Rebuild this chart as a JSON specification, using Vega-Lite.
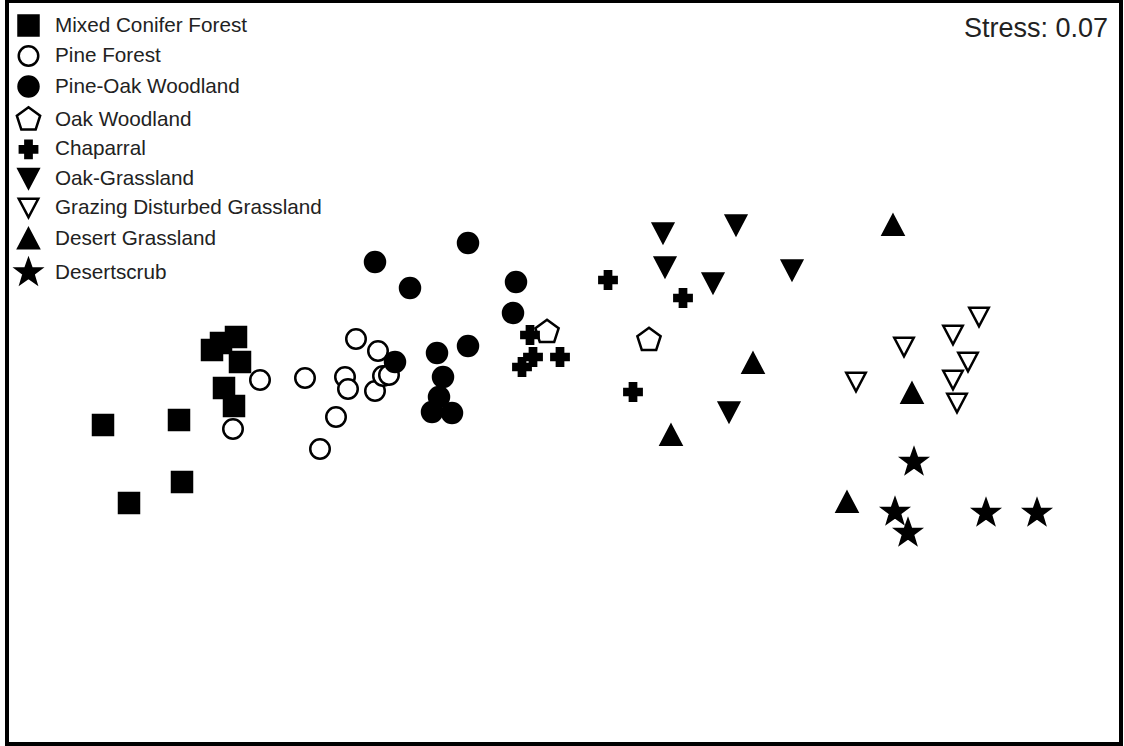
{
  "$schema": "https://vega.github.io/schema/vega-lite/v6.json",
  "width": 1124,
  "height": 746,
  "autosize": {"type": "fit", "contains": "padding"},
  "padding": {"left": 7, "top": 1, "right": 3, "bottom": 2},
  "background": "white",
  "config": {
    "view": {"stroke": "black", "strokeWidth": 4},
    "font": "Liberation Sans"
  },
  "layer": [
    {
      "data": {
        "values": [
          {"group": "Mixed Conifer Forest", "NMDS1": 236, "NMDS2": 407},
          {"group": "Mixed Conifer Forest", "NMDS1": 221, "NMDS2": 401},
          {"group": "Mixed Conifer Forest", "NMDS1": 212, "NMDS2": 394},
          {"group": "Mixed Conifer Forest", "NMDS1": 240, "NMDS2": 382},
          {"group": "Mixed Conifer Forest", "NMDS1": 224, "NMDS2": 356},
          {"group": "Mixed Conifer Forest", "NMDS1": 234, "NMDS2": 338},
          {"group": "Mixed Conifer Forest", "NMDS1": 103, "NMDS2": 319},
          {"group": "Mixed Conifer Forest", "NMDS1": 179, "NMDS2": 324},
          {"group": "Mixed Conifer Forest", "NMDS1": 182, "NMDS2": 262},
          {"group": "Mixed Conifer Forest", "NMDS1": 129, "NMDS2": 241},
          {"group": "Pine Forest", "NMDS1": 260, "NMDS2": 364},
          {"group": "Pine Forest", "NMDS1": 305, "NMDS2": 366},
          {"group": "Pine Forest", "NMDS1": 356, "NMDS2": 405},
          {"group": "Pine Forest", "NMDS1": 378, "NMDS2": 393},
          {"group": "Pine Forest", "NMDS1": 345, "NMDS2": 367},
          {"group": "Pine Forest", "NMDS1": 348, "NMDS2": 355},
          {"group": "Pine Forest", "NMDS1": 375, "NMDS2": 353},
          {"group": "Pine Forest", "NMDS1": 383, "NMDS2": 368},
          {"group": "Pine Forest", "NMDS1": 389, "NMDS2": 369},
          {"group": "Pine Forest", "NMDS1": 336, "NMDS2": 327},
          {"group": "Pine Forest", "NMDS1": 320, "NMDS2": 295},
          {"group": "Pine Forest", "NMDS1": 233, "NMDS2": 315},
          {"group": "Pine-Oak Woodland", "NMDS1": 375, "NMDS2": 482},
          {"group": "Pine-Oak Woodland", "NMDS1": 468, "NMDS2": 501},
          {"group": "Pine-Oak Woodland", "NMDS1": 410, "NMDS2": 456},
          {"group": "Pine-Oak Woodland", "NMDS1": 516, "NMDS2": 462},
          {"group": "Pine-Oak Woodland", "NMDS1": 513, "NMDS2": 431},
          {"group": "Pine-Oak Woodland", "NMDS1": 395, "NMDS2": 382},
          {"group": "Pine-Oak Woodland", "NMDS1": 437, "NMDS2": 391},
          {"group": "Pine-Oak Woodland", "NMDS1": 468, "NMDS2": 398},
          {"group": "Pine-Oak Woodland", "NMDS1": 443, "NMDS2": 367},
          {"group": "Pine-Oak Woodland", "NMDS1": 439, "NMDS2": 347},
          {"group": "Pine-Oak Woodland", "NMDS1": 432, "NMDS2": 332},
          {"group": "Pine-Oak Woodland", "NMDS1": 452, "NMDS2": 331},
          {"group": "Oak Woodland", "NMDS1": 547, "NMDS2": 412},
          {"group": "Oak Woodland", "NMDS1": 649, "NMDS2": 404},
          {"group": "Chaparral", "NMDS1": 530, "NMDS2": 409},
          {"group": "Chaparral", "NMDS1": 533, "NMDS2": 387},
          {"group": "Chaparral", "NMDS1": 522, "NMDS2": 377},
          {"group": "Chaparral", "NMDS1": 560, "NMDS2": 387},
          {"group": "Chaparral", "NMDS1": 608, "NMDS2": 464},
          {"group": "Chaparral", "NMDS1": 683, "NMDS2": 446},
          {"group": "Chaparral", "NMDS1": 633, "NMDS2": 352},
          {"group": "Oak-Grassland", "NMDS1": 663, "NMDS2": 511},
          {"group": "Oak-Grassland", "NMDS1": 736, "NMDS2": 519},
          {"group": "Oak-Grassland", "NMDS1": 665, "NMDS2": 477},
          {"group": "Oak-Grassland", "NMDS1": 713, "NMDS2": 461},
          {"group": "Oak-Grassland", "NMDS1": 792, "NMDS2": 474},
          {"group": "Oak-Grassland", "NMDS1": 729, "NMDS2": 332},
          {"group": "Grazing Disturbed Grassland", "NMDS1": 979, "NMDS2": 427},
          {"group": "Grazing Disturbed Grassland", "NMDS1": 953, "NMDS2": 409},
          {"group": "Grazing Disturbed Grassland", "NMDS1": 904, "NMDS2": 397},
          {"group": "Grazing Disturbed Grassland", "NMDS1": 968, "NMDS2": 382},
          {"group": "Grazing Disturbed Grassland", "NMDS1": 953, "NMDS2": 364},
          {"group": "Grazing Disturbed Grassland", "NMDS1": 856, "NMDS2": 362},
          {"group": "Grazing Disturbed Grassland", "NMDS1": 957, "NMDS2": 341},
          {"group": "Desert Grassland", "NMDS1": 893, "NMDS2": 519},
          {"group": "Desert Grassland", "NMDS1": 753, "NMDS2": 381},
          {"group": "Desert Grassland", "NMDS1": 912, "NMDS2": 351},
          {"group": "Desert Grassland", "NMDS1": 671, "NMDS2": 309},
          {"group": "Desert Grassland", "NMDS1": 847, "NMDS2": 242},
          {"group": "Desertscrub", "NMDS1": 914, "NMDS2": 282},
          {"group": "Desertscrub", "NMDS1": 895, "NMDS2": 232},
          {"group": "Desertscrub", "NMDS1": 908, "NMDS2": 211},
          {"group": "Desertscrub", "NMDS1": 986, "NMDS2": 231},
          {"group": "Desertscrub", "NMDS1": 1037, "NMDS2": 231}
        ]
      },
      "mark": {"type": "point", "filled": true, "stroke": "black", "strokeWidth": 2.5, "opacity": 1},
      "encoding": {
        "x": {"field": "NMDS1", "type": "quantitative", "scale": {"domain": [7, 1121], "nice": false, "zero": false}, "axis": null},
        "y": {"field": "NMDS2", "type": "quantitative", "scale": {"domain": [0, 743], "nice": false, "zero": false}, "axis": null},
        "shape": {
          "field": "group", "type": "nominal",
          "scale": {
            "domain": ["Mixed Conifer Forest", "Pine Forest", "Pine-Oak Woodland", "Oak Woodland", "Chaparral", "Oak-Grassland", "Grazing Disturbed Grassland", "Desert Grassland", "Desertscrub"],
            "range": ["square", "circle", "circle",
              "M0,-1L0.951,-0.309L0.588,0.809L-0.588,0.809L-0.951,-0.309Z",
              "M-0.36,-1H0.36V-0.36H1V0.36H0.36V1H-0.36V0.36H-1V-0.36H-0.36Z",
              "M-1,-0.95L1,-0.95L0,0.95Z",
              "M-1,-0.95L1,-0.95L0,0.95Z",
              "M0,-0.95L1,0.95L-1,0.95Z",
              "M0,-1L0.235,-0.324L0.951,-0.309L0.38,0.124L0.588,0.809L0,0.4L-0.588,0.809L-0.38,0.124L-0.951,-0.309L-0.235,-0.324Z"]
          },
          "legend": {
            "title": null,
            "orient": "none",
            "legendX": 7,
            "legendY": 13,
            "labelFont": "Liberation Sans",
            "labelFontSize": 20.7,
            "labelColor": "#222222",
            "labelOffset": 12,
            "labelLimit": 500,
            "rowPadding": 0,
            "symbolStrokeColor": "black",
            "symbolStrokeWidth": 2.5,
            "symbolOpacity": 1,
            "padding": 0
          }
        },
        "fill": {
          "field": "group", "type": "nominal",
          "scale": {
            "domain": ["Mixed Conifer Forest", "Pine Forest", "Pine-Oak Woodland", "Oak Woodland", "Chaparral", "Oak-Grassland", "Grazing Disturbed Grassland", "Desert Grassland", "Desertscrub"],
            "range": ["black", "white", "black", "white", "black", "black", "white", "black", "black"]
          }
        },
        "size": {
          "field": "group", "type": "nominal",
          "scale": {
            "type": "ordinal",
            "domain": ["Mixed Conifer Forest", "Pine Forest", "Pine-Oak Woodland", "Oak Woodland", "Chaparral", "Oak-Grassland", "Grazing Disturbed Grassland", "Desert Grassland", "Desertscrub"],
            "range": [400, 380, 400, 600, 300, 400, 380, 420, 680]
          }
        }
      }
    },
    {
      "data": {"values": [{"label": "Stress: 0.07"}]},
      "mark": {"type": "text", "font": "Liberation Sans", "fontSize": 27, "align": "right", "baseline": "alphabetic", "color": "#222222"},
      "encoding": {
        "text": {"field": "label", "type": "nominal"},
        "x": {"datum": 1108, "type": "quantitative"},
        "y": {"datum": 707, "type": "quantitative"}
      }
    }
  ]
}
